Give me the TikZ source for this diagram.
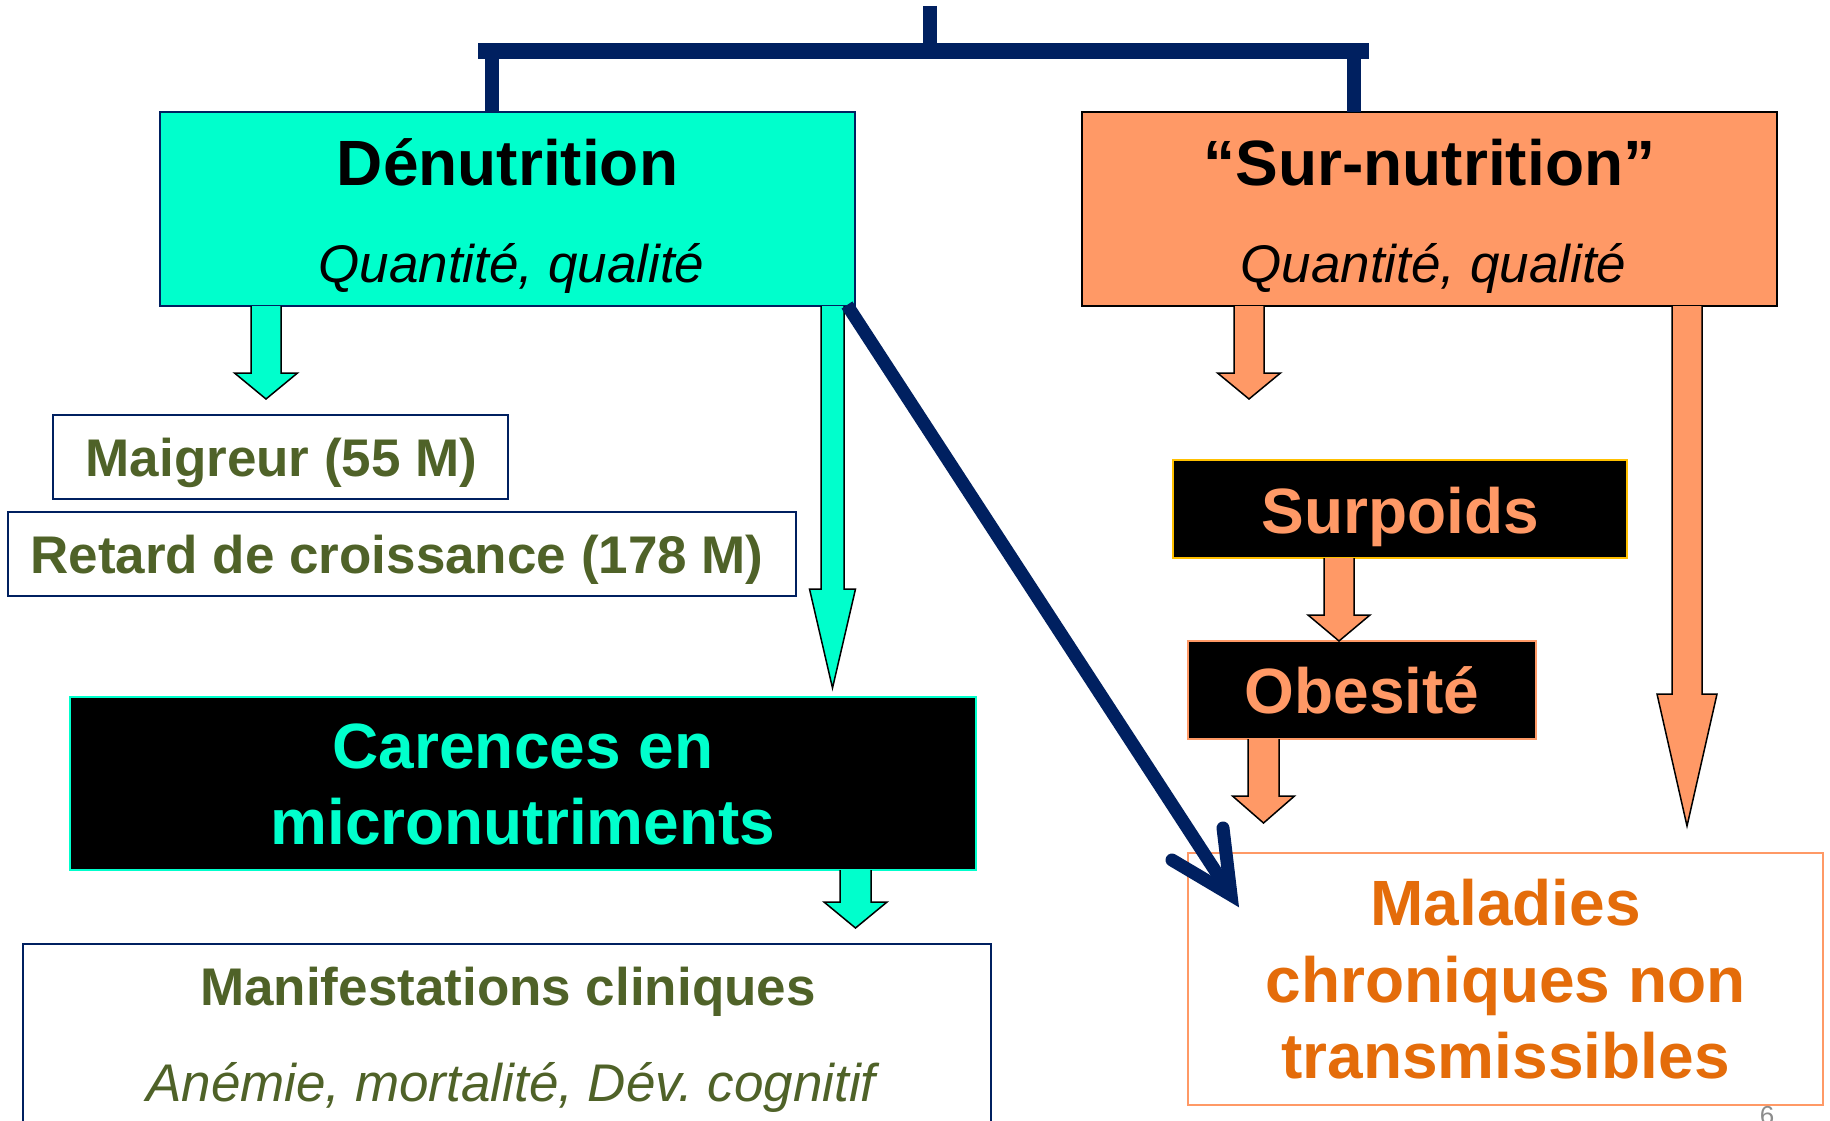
\documentclass[tikz,border=0pt]{standalone}
\usepackage{fontspec}
\setmainfont{Liberation Sans}
\usetikzlibrary{calc}
\frenchspacing
\definecolor{cyanfill}{HTML}{00FFCC}
\definecolor{salmon}{HTML}{FF9966}
\definecolor{navy}{HTML}{002060}
\definecolor{olive}{HTML}{4F6228}
\definecolor{orangetxt}{HTML}{E46C0A}
\definecolor{gold}{HTML}{FFC000}
\definecolor{pagegray}{HTML}{8C8C8C}
% block arrow: color, start coordinate, head-base offset, tip offset, shaft half width, head half width
\newcommand\blockarrow[6]{%
  \filldraw[fill=#1, draw=black, line width=1.5pt, line join=miter, miter limit=30]
    ($(#2)+(-#5,0)$) -- ($(#2)+(-#5,#3)$) -- ($(#2)+(-#6,#3)$) -- ($(#2)+(0,#4)$)
    -- ($(#2)+(#6,#3)$) -- ($(#2)+(#5,#3)$) -- ($(#2)+(#5,0)$);}
\tikzset{
  box/.style={rectangle, inner sep=0pt, outer sep=0pt, line width=2pt},
  txt/.style={anchor=base, inner sep=0pt, outer sep=0pt},
  big/.style={font=\fontsize{64}{76}\selectfont\bfseries},
  mid/.style={font=\fontsize{53}{64}\selectfont\bfseries},
  midit/.style={font=\fontsize{53}{64}\selectfont\itshape},
  conn/.style={navy, line width=14pt},
}
\begin{document}
\begin{tikzpicture}[x=1pt, y=-1pt]
\useasboundingbox (0,0) rectangle (1830,1121);
\fill[white] (0,0) rectangle (1830,1121);

% boxes
\node[box, fill=cyanfill, draw=navy, minimum width=695pt, minimum height=194pt] (den) at (507.5,209) {};
\node[box, fill=salmon, draw=black, minimum width=695pt, minimum height=194pt] (sur) at (1429.5,209) {};
\node[box, draw=navy, minimum width=455pt, minimum height=84pt] (mai) at (280.5,457) {};
\node[box, draw=navy, minimum width=788pt, minimum height=84pt] (ret) at (402,554) {};
\node[box, fill=black, draw=cyanfill, minimum width=906pt, minimum height=173pt] (car) at (523,783.5) {};
\node[box, draw=navy, minimum width=968pt, minimum height=196pt] (man) at (507,1042) {};
\node[box, fill=black, draw=gold, minimum width=454pt, minimum height=98pt] (surp) at (1400,509) {};
\node[box, fill=black, draw=salmon, minimum width=348pt, minimum height=98pt] (obe) at (1362,690) {};
\node[box, draw=salmon, minimum width=635pt, minimum height=252pt] (mal) at (1505.5,979) {};

% texts
\node[txt, big] at (507.5,185) {Dénutrition};
\node[txt, midit] at (511.5,282) {Quantité, qualité};
\node[txt, big] at (1429.5,185) {“Sur-nutrition”};
\node[txt, midit] at (1433.5,282) {Quantité, qualité};
\node[txt, mid, text=olive] at (281.5,476) {Maigreur (55 M)};
\node[txt, mid, text=olive] at (397,573) {Retard de croissance (178 M)};
\node[txt, big, text=cyanfill] at (523,768) {Carences en};
\node[txt, big, text=cyanfill] at (523,844) {micronutriments};
\node[txt, mid, text=olive] at (508,1005) {Manifestations cliniques};
\node[txt, midit, text=olive] at (511,1101) {Anémie, mortalité, Dév. cognitif};
\node[txt, big, text=salmon] at (1400,533) {Surpoids};
\node[txt, big, text=salmon] at (1362,713) {Obesité};
\node[txt, big, text=orangetxt] at (1505.5,925) {Maladies};
\node[txt, big, text=orangetxt] at (1505.5,1002) {chroniques non};
\node[txt, big, text=orangetxt] at (1505.5,1078) {transmissibles};
\node[txt, text=pagegray, font=\fontsize{26}{30}\selectfont] at (1767,1124) {6};

% block arrows
\coordinate (x1) at (266,0);
\coordinate (x2) at (832.5,0);
\coordinate (x3) at (855.5,0);
\coordinate (x4) at (1249,0);
\coordinate (x5) at (1339,0);
\coordinate (x6) at (1263.5,0);
\coordinate (x7) at (1687,0);
\coordinate (s1) at (x1 |- den.south);
\coordinate (s2) at (x2 |- den.south);
\coordinate (s3) at (x3 |- car.south);
\coordinate (s4) at (x4 |- sur.south);
\coordinate (s5) at (x5 |- surp.south);
\coordinate (s6) at (x6 |- obe.south);
\coordinate (s7) at (x7 |- sur.south);
\blockarrow{cyanfill}{s1}{67}{93}{15}{31.5}
\blockarrow{cyanfill}{s2}{283}{382}{11.5}{23}
\blockarrow{cyanfill}{s3}{32}{58}{15.5}{31.5}
\blockarrow{salmon}{s4}{67}{93}{15}{31.5}
\blockarrow{salmon}{s5}{57}{83}{15}{31}
\blockarrow{salmon}{s6}{57}{84}{15.5}{31}
\blockarrow{salmon}{s7}{388}{520}{15}{30}

% top connector
\coordinate (root) at (930,6);
\coordinate (mid) at (930,51);
\coordinate (bl) at (492,59);
\coordinate (br) at (1354,59);
\draw[conn] (root) -- (mid);
\fill[navy] (478,43) rectangle (1369,59);
\draw[conn] (bl) -- (bl |- den.north);
\draw[conn] (br) -- (br |- sur.north);

% diagonal arrow
\coordinate (dstart) at ($(den.south east)+(-8,-1)$);
\coordinate (tip) at ($(mal.north west)+(43,42)$);
\draw[navy, line width=13pt, shorten >=12pt] (dstart) -- (tip);
\draw[navy, line width=13pt, line cap=round, line join=miter, miter limit=30]
  ($(tip)+(-59,-35)$) -- (tip) -- ($(tip)+(-8,-67)$);
\end{tikzpicture}
\end{document}
